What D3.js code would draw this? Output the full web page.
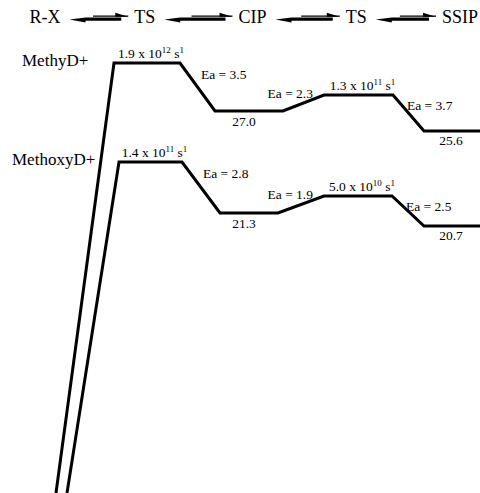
<!DOCTYPE html>
<html>
<head>
<meta charset="utf-8">
<script src="https://cdn.jsdelivr.net/npm/d3@7"></script>
<style>
  body { margin: 0; background: #fff; }
</style>
</head>
<body>
<div id="my_dataviz"></div>
<script>
// header of the scheme
var stages = ["R-X", "TS", "CIP", "TS", "SSIP"];

// reaction coordinate (break points) and schematic energy level of each profile
var methylRC    = [0.56, 1.14, 1.80, 2.15, 2.83, 3.24, 3.93, 4.24, 4.85];
var methylLevel = [0, 43.0, 43.0, 38.2, 38.2, 39.8, 39.8, 36.2, 36.2];
var methoxyRC    = [0.67, 1.19, 1.82, 2.20, 2.78, 3.24, 3.92, 4.24, 4.85];
var methoxyLevel = [0, 33.1, 33.1, 28.0, 28.0, 29.7, 29.7, 26.7, 26.7];

// labels: rate constants [mantissa, exponent], activation energies, well depths
var methylRates   = [["1.9", "12"], ["1.3", "11"]];
var methylEa      = ["3.5", "2.3", "3.7"];
var methylWells   = ["27.0", "25.6"];
var methoxyRates  = [["1.4", "11"], ["5.0", "10"]];
var methoxyEa     = ["2.8", "1.9", "2.5"];
var methoxyWells  = ["21.3", "20.7"];

var width = 480, height = 493;

var svg = d3.select("#my_dataviz")
  .append("svg")
  .attr("width", width)
  .attr("height", height)
  .attr("font-family", "'Liberation Serif', 'Times New Roman', serif")
  .attr("fill", "#000");

var x = d3.scaleLinear().domain([0, 4.8]).range([0, width]);
var y = d3.scaleLinear().domain([0, 49.3]).range([height, 0]);

// header with equilibrium harpoons
var hx = d3.scalePoint().domain(d3.range(stages.length)).range([45, 460]);
var head = svg.append("g");
var labels = head.selectAll("text")
  .data(stages)
  .enter()
  .append("text")
  .attr("x", function(d, i) { return hx(i) - (i == 1 ? 4 : 0); })
  .attr("y", 23)
  .attr("text-anchor", "middle")
  .attr("font-size", 18)
  .text(function(d) { return d; });

var boxes = [];
labels.each(function() { boxes.push(this.getBBox()); });
for (var i = 0; i < boxes.length - 1; i++) {
  var x0 = boxes[i].x + boxes[i].width + 9,
      x1 = boxes[i + 1].x - 6,
      L = x1 - x0;
  // forward arrow (thin, upper barb)
  head.append("line")
    .attr("x1", x0 + L * 0.4).attr("x2", x1)
    .attr("y1", 16.2).attr("y2", 16.2)
    .attr("stroke", "#000").attr("stroke-width", 1.2);
  head.append("path")
    .attr("d", "M" + x1 + ",16.8 L" + (x1 - 13) + ",12.8 L" + (x1 - 13) + ",16.8 Z")
    .attr("fill", "#000");
  // reverse arrow (thick, lower barb)
  head.append("path")
    .attr("d", "M" + x0 + ",19.5 L" + (x0 + 16) + ",17.6 L" + (x1 - 7) + ",17.6 L" +
      (x1 - 7) + ",20.8 L" + (x0 + 16) + ",20.8 L" + (x0 + 16) + ",22.4 Z")
    .attr("fill", "#000");
}

function profile(rc, level, name, rates, ea, wells, nameX) {
  var pts = rc.map(function(r, i) { return [r, level[i]]; });

  svg.append("path")
    .datum(pts)
    .attr("fill", "none")
    .attr("stroke", "#000")
    .attr("stroke-width", 3)
    .attr("stroke-linejoin", "miter")
    .attr("d", d3.line()
      .x(function(d) { return x(d[0]); })
      .y(function(d) { return y(d[1]); }));

  var g = svg.append("g").attr("font-size", 13.5);

  // series name
  svg.append("text")
    .attr("x", nameX)
    .attr("y", y(level[1]) + 3)
    .attr("font-size", 17)
    .text(name);

  // rate constants above the transition states
  [1, 5].forEach(function(k, j) {
    var t = g.append("text")
      .attr("x", (x(rc[k]) + x(rc[k + 1])) / 2 + 4)
      .attr("y", y(level[k]) - 5)
      .attr("text-anchor", "middle");
    t.append("tspan").text(rates[j][0] + " x 10");
    t.append("tspan").attr("dy", -5).attr("font-size", 9).text(rates[j][1]);
    t.append("tspan").attr("dy", 5).text(" s");
    t.append("tspan").attr("dy", -5).attr("font-size", 9).text("1");
  });

  // activation energies
  g.append("text")
    .attr("x", x(rc[2]) + 21)
    .attr("y", y(level[2]) + 16)
    .text("Ea = " + ea[0]);
  g.append("text")
    .attr("x", x(rc[5]) - 11)
    .attr("y", y(level[5]) + 3)
    .attr("text-anchor", "end")
    .text("Ea = " + ea[1]);
  g.append("text")
    .attr("x", x(rc[6]) + 14)
    .attr("y", y(level[6]) + 15)
    .text("Ea = " + ea[2]);

  // well depths below the intermediates
  g.append("text")
    .attr("x", (x(rc[3]) + x(rc[4])) / 2 - 5)
    .attr("y", y(level[3]) + 15)
    .attr("text-anchor", "middle")
    .text(wells[0]);
  g.append("text")
    .attr("x", x(rc[7]) + 27)
    .attr("y", y(level[7]) + 14)
    .attr("text-anchor", "middle")
    .text(wells[1]);
}

profile(methylRC, methylLevel, "MethyD+", methylRates, methylEa, methylWells, 22);
profile(methoxyRC, methoxyLevel, "MethoxyD+", methoxyRates, methoxyEa, methoxyWells, 12);
</script>
</body>
</html>
